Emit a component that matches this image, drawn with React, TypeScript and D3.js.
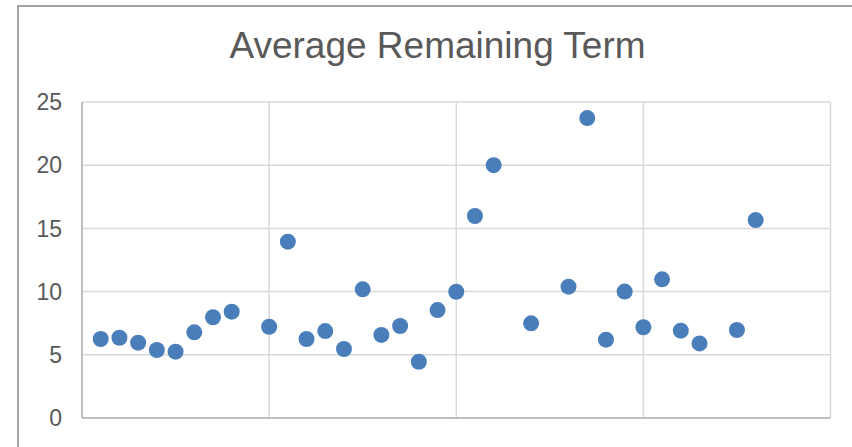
import React from 'react';
import * as d3 from 'd3';

// x position (period index) and average remaining term
const periods = [1, 2, 3, 4, 5, 6, 7, 8, 10, 11, 12, 13, 14, 15, 16, 17, 18, 19, 20, 21, 22, 24, 26, 27, 28, 29, 30, 31, 32, 33, 35, 36];
const terms = [6.25, 6.35, 5.96, 5.38, 5.25, 6.78, 7.97, 8.41, 7.22, 13.95, 6.25, 6.88, 5.46, 10.18, 6.57, 7.28, 4.45, 8.54, 9.99, 15.98, 20.0, 7.49, 10.39, 23.73, 6.2, 10.0, 7.18, 10.97, 6.91, 5.9, 6.96, 15.66];
const yTicks = [0, 5, 10, 15, 20, 25];
const xTicks = [0, 10, 20, 30, 40];

const W = 852;
const H = 447;
const margin = { left: 82, right: 21.5, top: 102, bottom: 29 };

export default function App() {
  const x = d3.scaleLinear().domain([0, 40]).range([margin.left, W - margin.right]);
  const y = d3.scaleLinear().domain([0, 25]).range([H - margin.bottom, margin.top]);

  return (
    <svg width={W} height={H} style={{ position: 'absolute', left: 0, top: 0, background: '#fff' }}
      fontFamily="'Liberation Sans', Arial, sans-serif">
      {/* chart border */}
      <rect x={18} y={6} width={W} height={H} fill="#fff" stroke="#868686" strokeWidth={1.5} />

      <text x={437.5} y={58} textAnchor="middle" fontSize={37} fill="#595959">Average Remaining Term</text>

      {/* gridlines */}
      {yTicks.slice(1).map(t => (
        <line key={'y' + t} x1={x(0)} x2={x(40)} y1={y(t)} y2={y(t)} stroke="#d9d9d9" strokeWidth={1.5} />
      ))}
      {xTicks.slice(1).map(t => (
        <line key={'x' + t} x1={x(t)} x2={x(t)} y1={y(0)} y2={y(25)} stroke="#d9d9d9" strokeWidth={1.5} />
      ))}

      {/* axes */}
      <line x1={x(0)} x2={x(40)} y1={y(0)} y2={y(0)} stroke="#bfbfbf" strokeWidth={2} />
      <line x1={x(0)} x2={x(0)} y1={y(0)} y2={y(25)} stroke="#bfbfbf" strokeWidth={2} />

      {yTicks.map(t => (
        <text key={'l' + t} x={62} y={y(t)} dy="0.36em" textAnchor="end" fontSize={23} fill="#595959">{t}</text>
      ))}

      {periods.map((p, i) => (
        <circle key={i} cx={x(p)} cy={y(terms[i])} r={8} fill="#4a7ebb" />
      ))}
    </svg>
  );
}
